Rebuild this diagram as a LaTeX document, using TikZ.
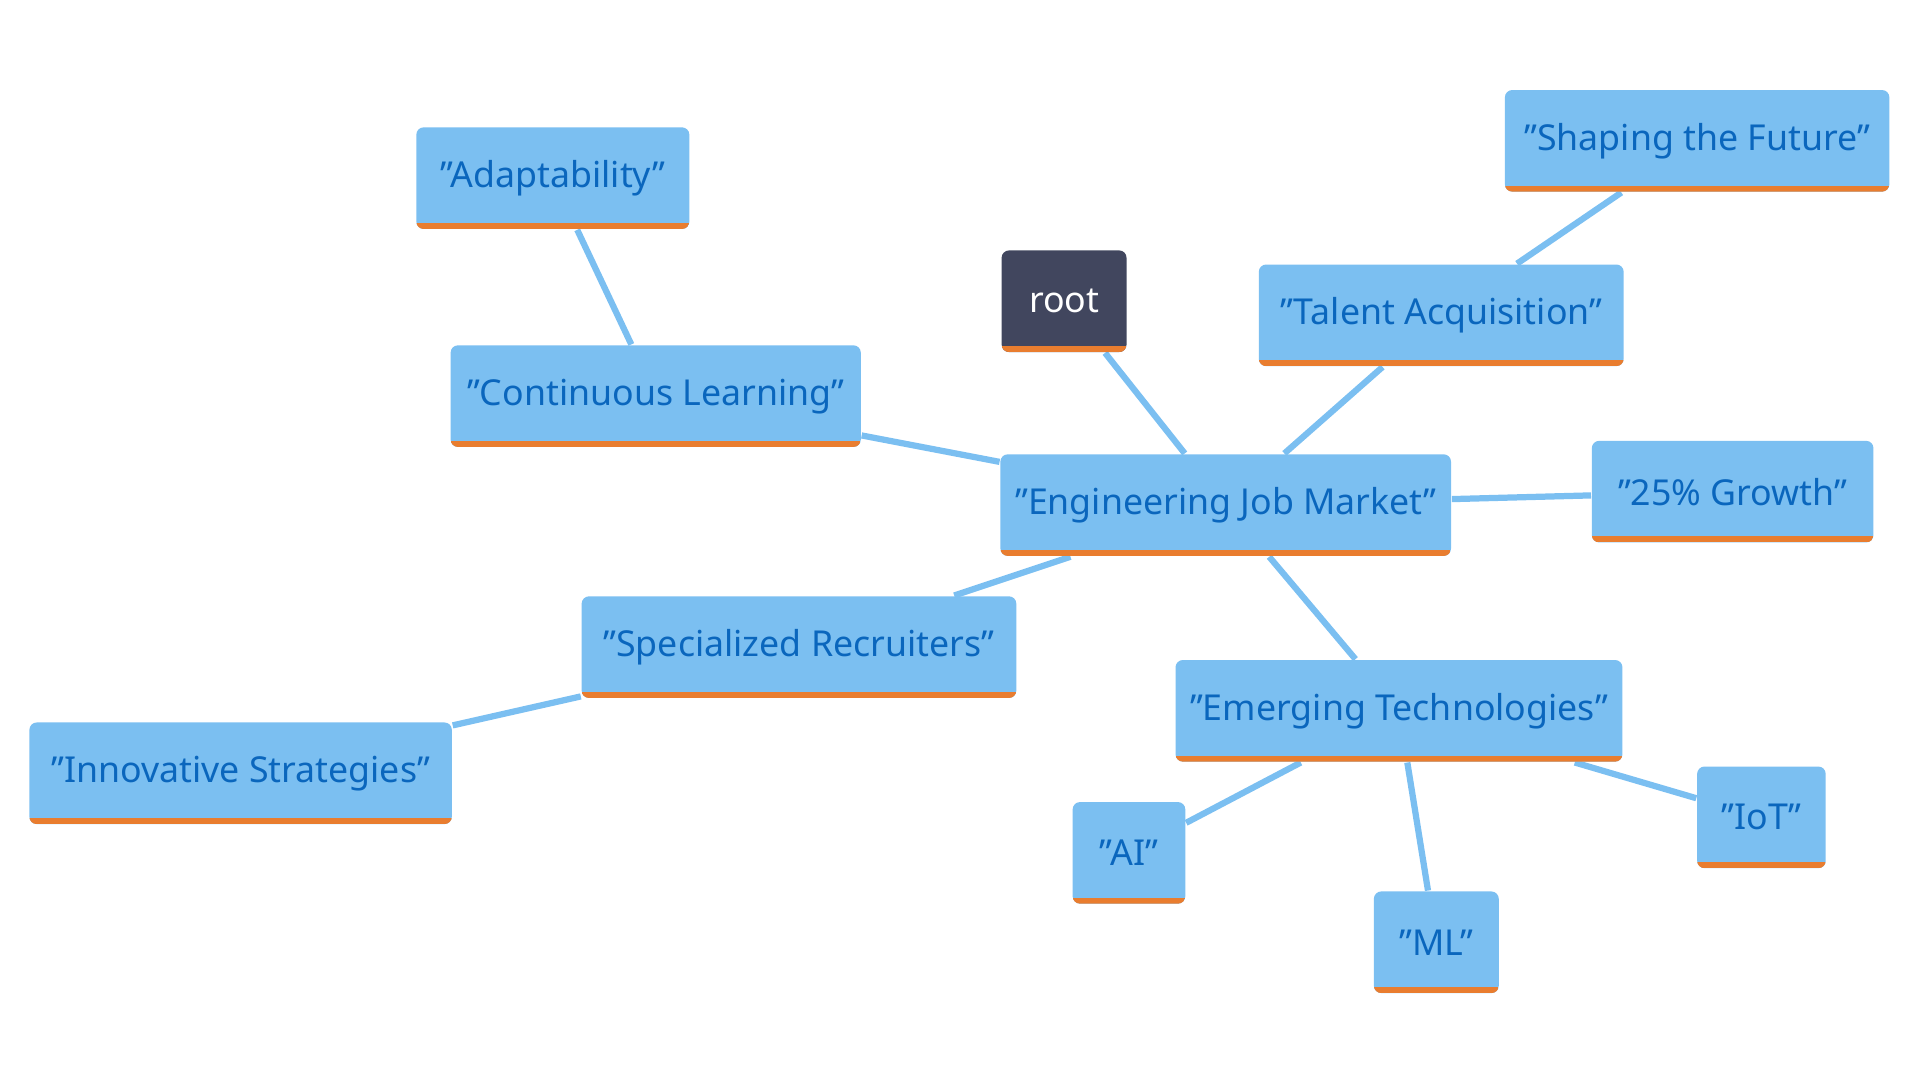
\documentclass[tikz,border=0pt]{standalone}
\usepackage{fontspec}
\setmainfont{Noto Sans}
\usetikzlibrary{backgrounds}
\definecolor{boxBlue}{HTML}{7BBFF1}
\definecolor{textBlue}{HTML}{0A66BD}
\definecolor{barOrange}{HTML}{E97D2F}
\definecolor{rootGray}{HTML}{41465E}
\begin{document}
\begin{tikzpicture}[
    x=0.1mm, y=-0.1mm,
    topic/.style={fill=boxBlue, text=textBlue, rounded corners=0.6mm, inner sep=0pt,
        minimum height=8.3mm,
        path picture={\fill[barOrange, sharp corners] ([yshift=0.5mm]path picture bounding box.south west) rectangle (path picture bounding box.south east);}},
    rootStyle/.style={topic, fill=rootGray, text=white},
    link/.style={draw=boxBlue, line width=1.45pt},
    every node/.style={font=\fontsize{8.3}{10}\selectfont, text centered}
        ]
    \useasboundingbox (0,0) rectangle (1568,882);

    \node[rootStyle, minimum width=10.2mm] (root) at (869,246) {root};
    \node[topic, minimum width=36.8mm] (market) at (1001,412.5) {"Engineering Job Market"};
    \node[topic, minimum width=22.3mm] (adapt) at (451.5,145.5) {"Adaptability"};
    \node[topic, minimum width=31.4mm] (future) at (1386,115) {"Shaping the Future"};
    \node[topic, minimum width=29.8mm] (talent) at (1177,257.5) {"Talent Acquisition"};
    \node[topic, minimum width=33.5mm] (learning) at (535.5,323.5) {"Continuous Learning"};
    \node[topic, minimum width=23mm] (growth) at (1415,401.5) {"25\% Growth"};
    \node[topic, minimum width=35.5mm] (recruit) at (652.5,528.5) {"Specialized Recruiters"};
    \node[topic, minimum width=34.5mm] (strategy) at (196.5,631.5) {"Innovative Strategies"};
    \node[topic, minimum width=36.5mm] (emerging) at (1142.5,580.5) {"Emerging Technologies"};
    \node[topic, minimum width=9.2mm] (ai) at (922,696.5) {"AI"};
    \node[topic, minimum width=10.2mm] (ml) at (1173,769.5) {"ML"};
    \node[topic, minimum width=10.5mm] (iot) at (1438.5,667.5) {"IoT"};

    \begin{scope}[on background layer]
        \draw[link] (root) -- (market);
        \draw[link] (market) -- (talent);
        \draw[link] (talent) -- (future);
        \draw[link] (market) -- (learning);
        \draw[link] (learning) -- (adapt);
        \draw[link] (market) -- (growth);
        \draw[link] (market) -- (recruit);
        \draw[link] (recruit) -- (strategy);
        \draw[link] (market) -- (emerging);
        \draw[link] (emerging) -- (ai);
        \draw[link] (emerging) -- (ml);
        \draw[link] (emerging) -- (iot);
    \end{scope}
\end{tikzpicture}
\end{document}
